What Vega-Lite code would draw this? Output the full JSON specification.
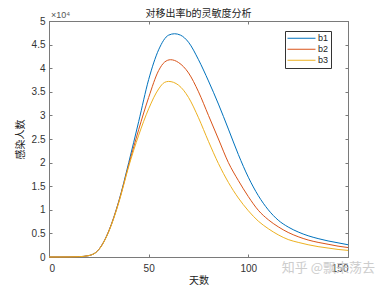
{
  "$schema": "https://vega.github.io/schema/vega-lite/v6.json",
  "width": 299,
  "height": 236,
  "autosize": {"type": "none"},
  "padding": {"left": 49, "top": 21, "right": 37, "bottom": 32},
  "background": "white",
  "config": {
    "font": "Liberation Sans",
    "view": {"stroke": "#7a7a7a", "strokeWidth": 1},
    "axis": {
      "grid": false,
      "domainColor": "#7a7a7a",
      "tickColor": "#7a7a7a",
      "tickSize": -3,
      "labelColor": "#333333",
      "labelFontSize": 10,
      "labelFont": "Liberation Sans",
      "titleFont": "Noto Sans CJK SC",
      "titleFontSize": 10,
      "titleFontWeight": "normal",
      "titleColor": "#222222"
    }
  },
  "title": {
    "text": "对移出率b的灵敏度分析",
    "font": "Noto Sans CJK SC",
    "fontSize": 10,
    "fontWeight": "normal",
    "color": "#222222",
    "offset": -8
  },
  "layer": [
    {
      "data": {
        "values": [
          {"day": 0, "series": "b1", "value": 0}, {"day": 5, "series": "b1", "value": 2}, {"day": 10, "series": "b1", "value": 10}, {"day": 15, "series": "b1", "value": 60}, {"day": 20, "series": "b1", "value": 300}, {"day": 25, "series": "b1", "value": 1600}, {"day": 30, "series": "b1", "value": 5500}, {"day": 35, "series": "b1", "value": 11800}, {"day": 40, "series": "b1", "value": 20000}, {"day": 45, "series": "b1", "value": 28700}, {"day": 50, "series": "b1", "value": 37600}, {"day": 55, "series": "b1", "value": 43900}, {"day": 60, "series": "b1", "value": 47000}, {"day": 63, "series": "b1", "value": 47300}, {"day": 66, "series": "b1", "value": 47000}, {"day": 70, "series": "b1", "value": 45500}, {"day": 75, "series": "b1", "value": 41800}, {"day": 80, "series": "b1", "value": 37300}, {"day": 85, "series": "b1", "value": 32400}, {"day": 90, "series": "b1", "value": 27100}, {"day": 95, "series": "b1", "value": 21700}, {"day": 100, "series": "b1", "value": 16900}, {"day": 105, "series": "b1", "value": 13000}, {"day": 110, "series": "b1", "value": 10000}, {"day": 115, "series": "b1", "value": 7800}, {"day": 120, "series": "b1", "value": 6350}, {"day": 125, "series": "b1", "value": 5300}, {"day": 130, "series": "b1", "value": 4500}, {"day": 135, "series": "b1", "value": 3900}, {"day": 140, "series": "b1", "value": 3400}, {"day": 145, "series": "b1", "value": 3000}, {"day": 150, "series": "b1", "value": 2600},
          {"day": 0, "series": "b2", "value": 0}, {"day": 5, "series": "b2", "value": 2}, {"day": 10, "series": "b2", "value": 10}, {"day": 15, "series": "b2", "value": 60}, {"day": 20, "series": "b2", "value": 300}, {"day": 25, "series": "b2", "value": 1600}, {"day": 30, "series": "b2", "value": 5500}, {"day": 35, "series": "b2", "value": 11700}, {"day": 40, "series": "b2", "value": 19500}, {"day": 45, "series": "b2", "value": 27000}, {"day": 50, "series": "b2", "value": 33800}, {"day": 55, "series": "b2", "value": 39500}, {"day": 58, "series": "b2", "value": 41300}, {"day": 61, "series": "b2", "value": 41800}, {"day": 65, "series": "b2", "value": 41200}, {"day": 70, "series": "b2", "value": 39000}, {"day": 75, "series": "b2", "value": 35000}, {"day": 80, "series": "b2", "value": 30000}, {"day": 85, "series": "b2", "value": 25000}, {"day": 90, "series": "b2", "value": 20000}, {"day": 95, "series": "b2", "value": 16200}, {"day": 100, "series": "b2", "value": 12800}, {"day": 105, "series": "b2", "value": 9900}, {"day": 110, "series": "b2", "value": 7900}, {"day": 115, "series": "b2", "value": 6400}, {"day": 120, "series": "b2", "value": 5200}, {"day": 125, "series": "b2", "value": 4300}, {"day": 130, "series": "b2", "value": 3600}, {"day": 135, "series": "b2", "value": 3100}, {"day": 140, "series": "b2", "value": 2700}, {"day": 145, "series": "b2", "value": 2300}, {"day": 150, "series": "b2", "value": 2000},
          {"day": 0, "series": "b3", "value": 0}, {"day": 5, "series": "b3", "value": 2}, {"day": 10, "series": "b3", "value": 10}, {"day": 15, "series": "b3", "value": 60}, {"day": 20, "series": "b3", "value": 300}, {"day": 25, "series": "b3", "value": 1550}, {"day": 30, "series": "b3", "value": 5400}, {"day": 35, "series": "b3", "value": 11500}, {"day": 40, "series": "b3", "value": 19200}, {"day": 45, "series": "b3", "value": 25800}, {"day": 50, "series": "b3", "value": 31400}, {"day": 55, "series": "b3", "value": 35600}, {"day": 58, "series": "b3", "value": 37000}, {"day": 60, "series": "b3", "value": 37200}, {"day": 65, "series": "b3", "value": 36400}, {"day": 70, "series": "b3", "value": 33800}, {"day": 75, "series": "b3", "value": 29500}, {"day": 80, "series": "b3", "value": 24500}, {"day": 85, "series": "b3", "value": 19800}, {"day": 90, "series": "b3", "value": 15800}, {"day": 95, "series": "b3", "value": 12500}, {"day": 100, "series": "b3", "value": 9800}, {"day": 105, "series": "b3", "value": 7600}, {"day": 110, "series": "b3", "value": 6000}, {"day": 115, "series": "b3", "value": 4700}, {"day": 120, "series": "b3", "value": 3700}, {"day": 125, "series": "b3", "value": 3100}, {"day": 130, "series": "b3", "value": 2600}, {"day": 135, "series": "b3", "value": 2200}, {"day": 140, "series": "b3", "value": 1900}, {"day": 145, "series": "b3", "value": 1600}, {"day": 150, "series": "b3", "value": 1400}
        ]
      },
      "mark": {"type": "line", "strokeWidth": 1, "interpolate": "monotone"},
      "encoding": {
        "x": {
          "field": "day", "type": "quantitative",
          "scale": {"domain": [0, 150], "nice": false},
          "axis": {"orient": "bottom", "values": [0, 50, 100, 150], "title": "天数", "labelPadding": 9, "titlePadding": 2}
        },
        "y": {
          "field": "value", "type": "quantitative",
          "scale": {"domain": [0, 50000], "nice": false},
          "axis": {"orient": "left", "values": [0, 5000, 10000, 15000, 20000, 25000, 30000, 35000, 40000, 45000, 50000], "labelExpr": "datum.value / 10000", "title": "感染人数", "labelPadding": 7, "titlePadding": 6}
        },
        "color": {
          "field": "series", "type": "nominal",
          "scale": {"domain": ["b1", "b2", "b3"], "range": ["#0072BD", "#D95319", "#EDB120"]},
          "legend": {
            "orient": "none", "legendX": 236, "legendY": 10, "title": null,
            "symbolType": "stroke", "symbolSize": 784, "symbolStrokeWidth": 1,
            "labelFontSize": 9, "labelColor": "#222222", "labelOffset": 2,
            "clipHeight": 10.5,
            "fillColor": "white", "strokeColor": "#333333", "padding": 2, "rowPadding": 0
          }
        }
      }
    },
    {
      "data": {"values": [{"x": 0, "y": 50000, "t": "×10⁴"}]},
      "mark": {"type": "text", "align": "left", "baseline": "bottom", "dx": 2, "dy": -1, "fontSize": 9, "color": "#555555"},
      "encoding": {
        "x": {"field": "x", "type": "quantitative", "axis": {"orient": "top", "values": [0, 50, 100, 150], "labels": false, "title": null}},
        "y": {"field": "y", "type": "quantitative", "axis": {"orient": "right", "values": [0, 5000, 10000, 15000, 20000, 25000, 30000, 35000, 40000, 45000, 50000], "labels": false, "title": null}},
        "text": {"field": "t"}
      }
    },
    {
      "data": {"values": [{"x": 150, "y": 0, "t": "知乎 @飘来荡去"}]},
      "mark": {"type": "text", "align": "right", "baseline": "middle", "dx": 27, "dy": 11, "fontSize": 13, "font": "Noto Sans CJK SC", "color": "#c8c8c8", "opacity": 0.9},
      "encoding": {
        "x": {"field": "x", "type": "quantitative", "axis": null},
        "y": {"field": "y", "type": "quantitative", "axis": null},
        "text": {"field": "t"}
      }
    }
  ],
  "resolve": {"axis": {"x": "independent", "y": "independent"}}
}
